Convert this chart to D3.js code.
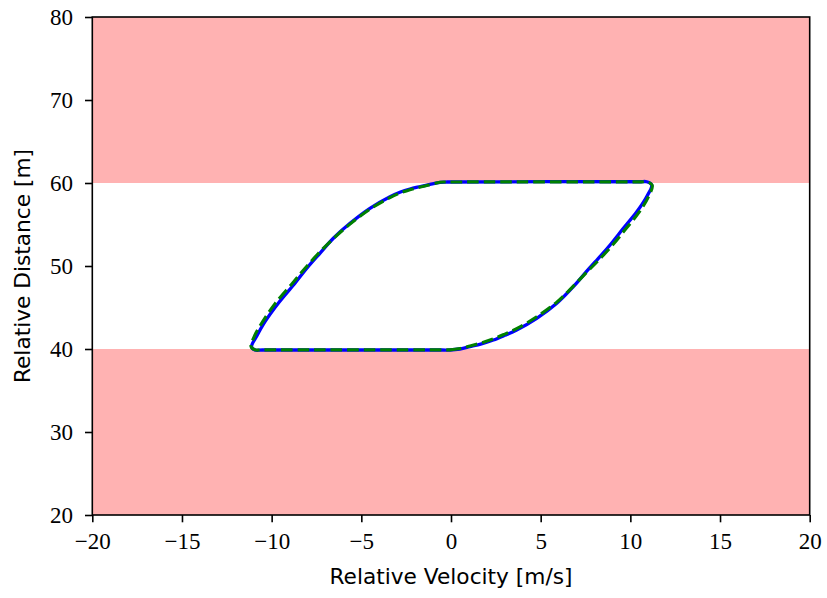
<!DOCTYPE html>
<html>
<head>
<meta charset="utf-8">
<script src="https://cdn.jsdelivr.net/npm/d3@7"></script>
<style>
  body { margin: 0; background: #fff; }
</style>
</head>
<body>
<div id="chart"></div>
<script>
// unsafe regions (distance bands)
var bands = [[60, 80], [20, 40]];

var xTicks = [-20, -15, -10, -5, 0, 5, 10, 15, 20];
var yTicks = [20, 30, 40, 50, 60, 70, 80];

// blue solid trajectory [velocity, distance]
var blueVel = [-0.5, -0.06, 0.5, 1.06, 1.7, 2.36, 3.0, 3.66, 4.78, 5.90, 6.82, 7.62, 8.05, 8.87, 9.61, 10.36, 10.91, 11.19, 10.91, 10.5,
    -0.2, -0.61, -1.17, -1.7, -2.29, -2.85, -3.40, -4.52, -5.63, -6.56, -7.31, -8.05, -8.70, -9.63, -10.37, -10.82, -11.12, -10.93, -10.5];
var blueDist = [39.88, 39.88, 40.0, 40.28, 40.62, 41.08, 41.65, 42.29, 43.70, 45.51, 47.51, 49.50, 50.52, 52.53, 54.54, 56.54, 58.35, 59.76, 60.15, 60.15,
    60.12, 60.08, 59.84, 59.58, 59.28, 58.88, 58.35, 56.95, 55.14, 53.34, 51.53, 49.70, 47.92, 45.51, 43.29, 41.60, 40.28, 39.88, 39.88];

// green dashed trajectory [velocity, distance]
var greenVel = [-0.5, -0.06, 0.5, 1.06, 1.7, 2.36, 3.0, 3.66, 4.78, 5.90, 6.82, 7.66, 8.12, 8.98, 9.74, 10.48, 11.00, 11.22, 10.95, 10.5,
    -0.2, -0.61, -1.17, -1.7, -2.29, -2.85, -3.40, -4.52, -5.63, -6.56, -7.40, -8.15, -8.85, -9.80, -10.50, -10.95, -11.15, -10.93, -10.5];
var greenDist = [39.90, 39.90, 40.05, 40.36, 40.74, 41.22, 41.80, 42.45, 43.88, 45.65, 47.58, 49.45, 50.45, 52.45, 54.45, 56.45, 58.30, 59.72, 60.13, 60.13,
    60.12, 60.10, 59.80, 59.52, 59.20, 58.78, 58.25, 56.85, 55.05, 53.30, 51.50, 49.70, 47.90, 45.50, 43.30, 41.60, 40.30, 39.90, 39.90];

function Chart(container) {
    var width = 827, height = 598;
    var left = 92.3, right = 809.7, top = 17, bottom = 515;

    var svg = d3.select(container).append("svg:svg")
        .attr("width", width)
        .attr("height", height)
        .attr("xmlns", "http://www.w3.org/2000/svg");

    var x = d3.scaleLinear().domain([-20, 20]).range([left, right]);
    var y = d3.scaleLinear().domain([20, 80]).range([bottom, top]);

    svg.selectAll("rect.band").data(bands).enter()
        .append("svg:rect")
        .attr("class", "band")
        .attr("x", x(-20))
        .attr("y", function(d) { return y(d[1]); })
        .attr("width", x(20) - x(-20))
        .attr("height", function(d) { return y(d[0]) - y(d[1]); })
        .style("fill", "#ffb2b2");

    var line = d3.line()
        .x(function(d) { return x(d[0]); })
        .y(function(d) { return y(d[1]); })
        .curve(d3.curveCatmullRomClosed.alpha(0.5));

    var blue = d3.zip(blueVel, blueDist);
    var green = d3.zip(greenVel, greenDist);

    svg.append("svg:path")
        .attr("d", line(blue))
        .style("fill", "none")
        .style("stroke", "#0000ff")
        .style("stroke-width", 3.3)
        .style("stroke-linejoin", "round");

    svg.append("svg:path")
        .attr("d", line(green))
        .style("fill", "none")
        .style("stroke", "#008000")
        .style("stroke-width", 3.1)
        .style("stroke-linejoin", "round")
        .style("stroke-dasharray", "11.5,5");

    var fmt = d3.format("d");

    var gx = svg.append("svg:g")
        .attr("transform", "translate(0," + bottom + ")")
        .call(d3.axisBottom(x).tickValues(xTicks).tickFormat(fmt).tickSize(7.3).tickPadding(10));
    var gy = svg.append("svg:g")
        .attr("transform", "translate(" + left + ",0)")
        .call(d3.axisLeft(y).tickValues(yTicks).tickFormat(fmt).tickSize(7.3).tickPadding(12));

    [gx, gy].forEach(function(g) {
        g.select(".domain").remove();
        g.selectAll("line").style("stroke", "#000").style("stroke-width", 1.6);
        g.selectAll("text")
            .style("font-family", "'Liberation Serif', serif")
            .style("font-size", "23px")
            .style("fill", "#000");
    });

    // frame
    svg.append("svg:rect")
        .attr("x", left)
        .attr("y", top)
        .attr("width", right - left)
        .attr("height", bottom - top)
        .style("fill", "none")
        .style("stroke", "#000")
        .style("stroke-width", 1.6);

    svg.append("svg:text")
        .attr("x", (left + right) / 2)
        .attr("y", 584)
        .attr("text-anchor", "middle")
        .style("font-family", "'DejaVu Sans', sans-serif")
        .style("font-size", "21.7px")
        .text("Relative Velocity [m/s]");

    svg.append("svg:text")
        .attr("transform", "translate(30," + y(50) + ") rotate(-90)")
        .attr("text-anchor", "middle")
        .style("font-family", "'DejaVu Sans', sans-serif")
        .style("font-size", "21.7px")
        .text("Relative Distance [m]");
}

Chart("#chart");
</script>
</body>
</html>
